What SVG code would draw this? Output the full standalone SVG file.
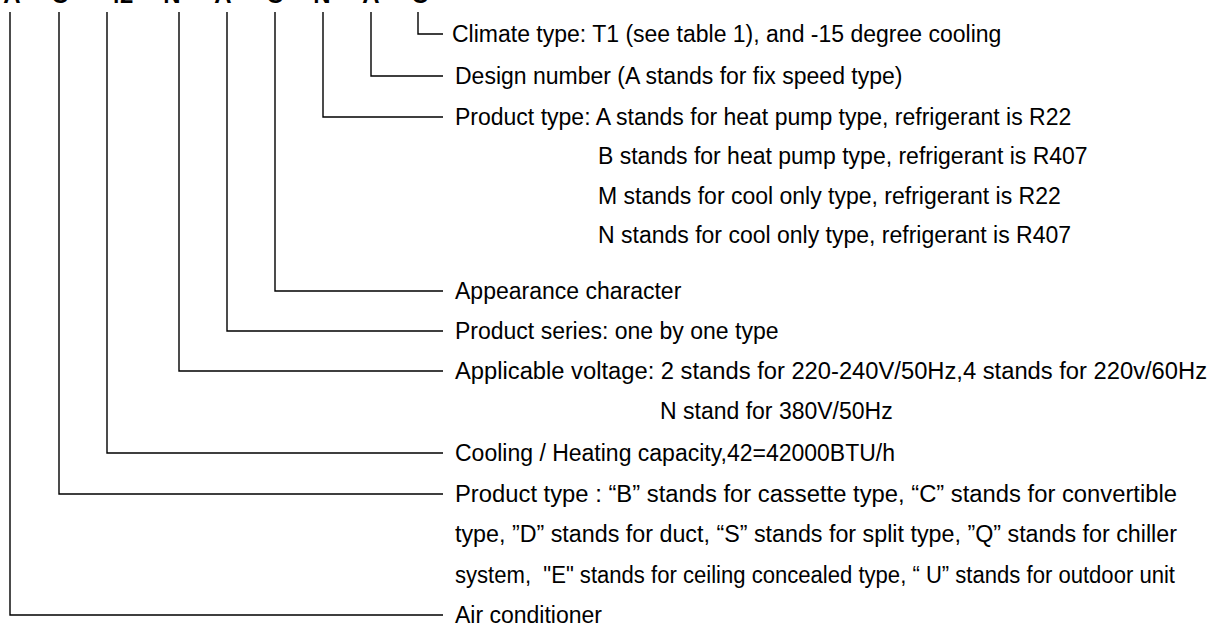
<svg xmlns="http://www.w3.org/2000/svg" width="1218" height="625" viewBox="0 0 1218 625">
<style>
.t{font-family:"Liberation Sans",Arial,sans-serif;font-size:23px;fill:#000;white-space:pre}
.code{font-family:"Liberation Sans",Arial,sans-serif;font-size:24px;font-weight:bold;fill:#000;text-anchor:middle}
.c{fill:none;stroke:#000;stroke-width:1.4}
</style>
<rect width="1218" height="625" fill="#fff"/>
<g id="code">
<text class="code" x="12" y="3">A</text>
<text class="code" x="60" y="3">C</text>
<text class="code" x="120" y="3">42</text>
<text class="code" x="172" y="3">N</text>
<text class="code" x="223" y="3">A</text>
<text class="code" x="275" y="3">C</text>
<text class="code" x="322" y="3">N</text>
<text class="code" x="371" y="3">A</text>
<text class="code" x="420" y="3">C</text>
</g>
<g id="connectors">
<path class="c" d="M418 12V34H443"/>
<path class="c" d="M371 12V76H443"/>
<path class="c" d="M323 12V117H443"/>
<path class="c" d="M275 12V291H443"/>
<path class="c" d="M227 12V331H443"/>
<path class="c" d="M179 12V371H443"/>
<path class="c" d="M107 12V453H443"/>
<path class="c" d="M59 12V494H443"/>
<path class="c" d="M10 12V615H443"/>
</g>
<g id="climate"><text class="t" x="452" y="42">Climate type: T1 (see table 1), and -15 degree cooling</text></g>
<g id="design"><text class="t" x="455" y="84">Design number (A stands for fix speed type)</text></g>
<g id="ptype">
<text class="t" x="455" y="125">Product type: A stands for heat pump type, refrigerant is R22</text>
<text class="t" x="598" y="164">B stands for heat pump type, refrigerant is R407</text>
<text class="t" x="598" y="204">M stands for cool only type, refrigerant is R22</text>
<text class="t" x="598" y="243">N stands for cool only type, refrigerant is R407</text>
</g>
<g id="appearance"><text class="t" x="455" y="299">Appearance character</text></g>
<g id="series"><text class="t" x="455" y="339">Product series: one by one type</text></g>
<g id="voltage">
<text class="t" x="455" y="379" textLength="752" lengthAdjust="spacingAndGlyphs">Applicable voltage: 2 stands for 220-240V/50Hz,4 stands for 220v/60Hz</text>
<text class="t" x="660" y="419">N stand for 380V/50Hz</text>
</g>
<g id="capacity"><text class="t" x="455" y="461">Cooling / Heating capacity,42=42000BTU/h</text></g>
<g id="product">
<text class="t" x="455" y="502" textLength="722" lengthAdjust="spacingAndGlyphs">Product type : “B” stands for cassette type, “C” stands for convertible</text>
<text class="t" x="455" y="542" textLength="722" lengthAdjust="spacingAndGlyphs">type, ”D” stands for duct, “S” stands for split type, ”Q” stands for chiller</text>
<text class="t" x="455" y="583" textLength="720" lengthAdjust="spacingAndGlyphs">system,  "E" stands for ceiling concealed type, “ U” stands for outdoor unit</text>
</g>
<g id="aircon"><text class="t" x="455" y="623">Air conditioner</text></g>
</svg>
